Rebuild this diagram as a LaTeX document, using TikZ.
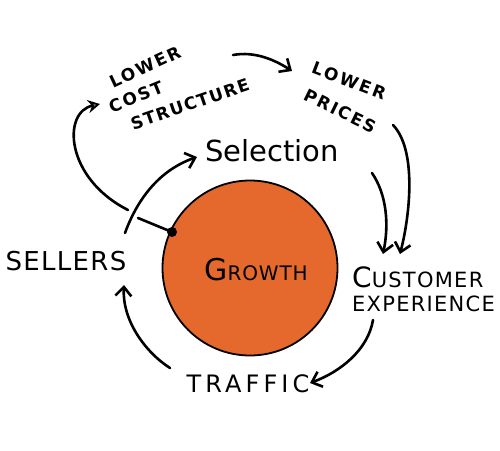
\documentclass[tikz,border=0pt]{standalone}
\usepackage{fontspec}
\setmainfont{DejaVu Sans}
\usetikzlibrary{arrows.meta}
\definecolor{growthorange}{HTML}{E5692C}
\tikzset{
  flow/.style={line width=2.6pt, line cap=round, -{Straight Barb[length=9pt,width=16pt,line width=2.6pt]}},
  flowfill/.style={line width=2.6pt, line cap=round, -{Stealth[length=12pt,width=13pt,fill=gray,line width=1.8pt]}},
  label/.style={inner sep=0pt, text=black},
}
\newcommand{\hw}[2]{\fontsize{#1}{#1}\selectfont\addfontfeature{LetterSpace=#2}}
\begin{document}
\begin{tikzpicture}[x=1pt,y=-1pt]
\useasboundingbox (0,0) rectangle (500,450);
% hub
\node[circle, minimum size=175pt, fill=growthorange, draw=black, line width=1.8pt, inner sep=0pt] (hub) at (250,268) {};
\node[label] (growth) at (256,270) {{\hw{30}{0}G}\hw{20}{4}ROWTH};
% texts
\node[label, rotate=25, font=\bfseries] (lower1) at (145,67) {\hw{17}{12}LOWER};
\node[label, rotate=22, font=\bfseries] (cost) at (136,97) {\hw{17}{12}COST};
\node[label, rotate=19, font=\bfseries] (structure) at (190,104) {\hw{17}{8}STRUCTURE};
\node[label, rotate=-21, font=\bfseries] (lower2) at (349,81) {\hw{17}{14}LOWER};
\node[label, rotate=-26, font=\bfseries] (prices) at (340,111) {\hw{17}{11}PRICES};
\node[label] (selection) at (272,151) {\hw{29}{0}Selection};
\node[label] (sellers) at (66,261) {\hw{26}{5}SELLERS};
\node[label, anchor=west] (customer) at (352,277) {{\hw{28}{0}C}\hw{21}{6}USTOMER};
\node[label, anchor=west] (experience) at (352,304) {\hw{21}{6}EXPERIENCE};
\node[label] (traffic) at (248,384) {\hw{24}{17}TRAFFIC};
% anchor coordinates
\coordinate (sA) at (125,233);
\coordinate (sB) at (197,157);
\coordinate (cA) at (128,210);
\coordinate (cB) at (100,104);
\coordinate (lA) at (233,55);
\coordinate (lB) at (292,71);
\coordinate (pA) at (393,125);
\coordinate (pB) at (400,254);
\coordinate (eA) at (372,173);
\coordinate (eB) at (383,254);
\coordinate (xA) at (373,320);
\coordinate (xB) at (310,383);
\coordinate (tA) at (170,368);
\coordinate (tB) at (124,285);
\coordinate (dotA) at (138,218);
\coordinate (dot) at (172,232);
% connectors
\draw[flow] (sA) .. controls (140,192) and (165,168) .. (sB);
\draw[flowfill] (cA) .. controls (65,178) and (62,112) .. (cB);
\draw[flow] (lA) .. controls (255,51) and (275,60) .. (lB);
\draw[flow] (pA) .. controls (417,150) and (410,215) .. (pB);
\draw[flow] (eA) .. controls (387,195) and (389,225) .. (eB);
\draw[flow] (xA) .. controls (368,350) and (340,372) .. (xB);
\draw[flow] (tA) .. controls (145,352) and (122,320) .. (tB);
\draw[line width=2.6pt, line cap=round] (dotA) -- (dot);
\fill (dot) circle (5pt);
\end{tikzpicture}
\end{document}
